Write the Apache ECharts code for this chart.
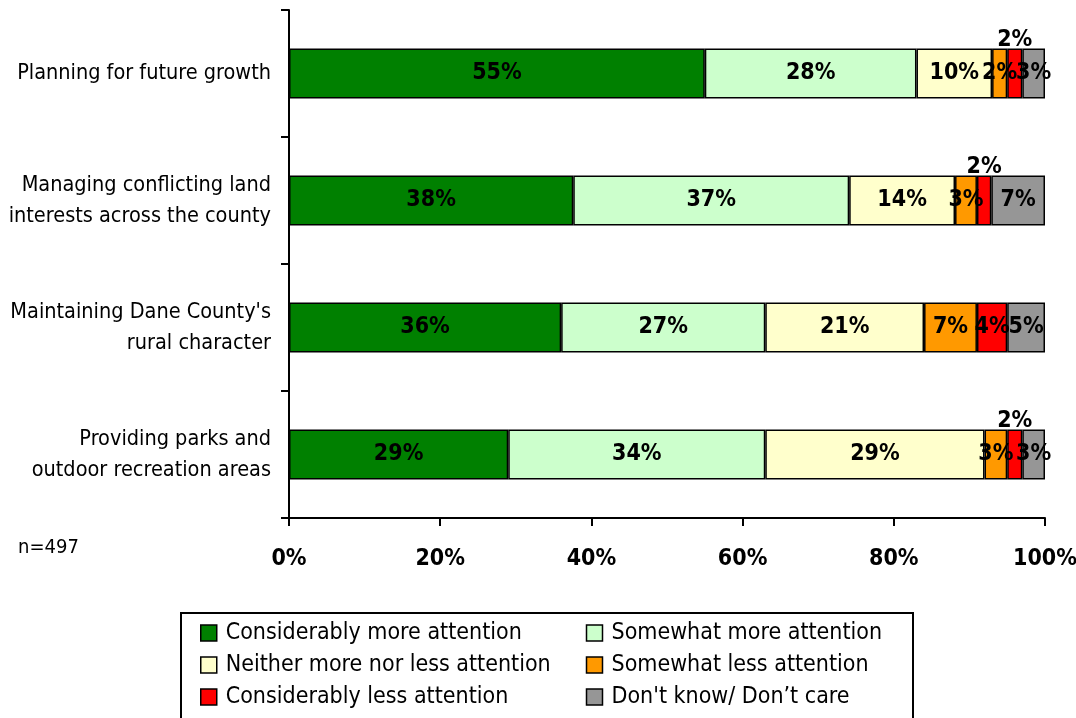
<!DOCTYPE html>
<html>
<head>
<meta charset="utf-8">
<script src="https://cdn.jsdelivr.net/npm/echarts@6/dist/echarts.min.js"></script>
<style>
html,body{margin:0;padding:0;background:#fff;}
#c{width:1076px;height:718px;}
</style>
</head>
<body>
<div id="c"></div>
<script>
var categories = [
  "Planning for future growth",
  "Managing conflicting land\ninterests across the county",
  "Maintaining Dane County's\nrural character",
  "Providing parks and\noutdoor recreation areas"
];
var seriesNames = [
  "Considerably more attention",
  "Somewhat more attention",
  "Neither more nor less attention",
  "Somewhat less attention",
  "Considerably less attention",
  "Don't know/ Don\u2019t care"
];
var considerablyMore = [55, 37.6, 36, 29];
var somewhatMore     = [28, 36.5, 27, 34];
var neither          = [10, 14, 21, 29];
var somewhatLess     = [2, 2.9, 7, 3];
var considerablyLess = [2, 1.9, 4, 2];
var dontKnow         = [3, 7.1, 5, 3];
var xTicks = [0, 20, 40, 60, 80, 100];
var sampleNote = "n=497";

var colors = ["#008000", "#CCFFCC", "#FFFFCC", "#FF9900", "#FF0000", "#969696"];
var allValues = [considerablyMore, somewhatMore, neither, somewhatLess, considerablyLess, dontKnow];
var FONT = "'Liberation Sans Narrow', 'Arial Narrow', 'DejaVu Sans Condensed', sans-serif";

var series = allValues.map(function (vals, si) {
  return {
    name: seriesNames[si],
    type: 'bar',
    stack: 'total',
    barWidth: 50,
    itemStyle: { color: colors[si], borderColor: '#000', borderWidth: 1.5 },
    label: {
      show: true,
      position: 'inside',
      color: '#000',
      fontFamily: FONT,
      fontWeight: 'bold',
      fontSize: 23,
      formatter: function (p) { return Math.round(p.value) + '%'; }
    },
    data: vals.map(function (v) {
      var d = { value: v };
      if (si === 4 && v < 3) {
        d.label = { position: 'top', distance: -3 };
      }
      return d;
    })
  };
});

var chart = echarts.init(document.getElementById('c'));
chart.setOption({
  animation: false,
  backgroundColor: '#fff',
  grid: { left: 289, right: 31, top: 10, bottom: 200, containLabel: false, outerBoundsMode: 'none' },
  xAxis: {
    type: 'value',
    min: 0, max: 100, interval: 20,
    axisLine: { show: true, lineStyle: { color: '#000', width: 2 } },
    axisTick: { show: true, length: 8, lineStyle: { color: '#000', width: 2 } },
    splitLine: { show: false },
    axisLabel: {
      margin: 30,
      color: '#000', fontFamily: FONT, fontWeight: 'bold', fontSize: 23,
      formatter: function (v) { return xTicks.indexOf(v) >= 0 ? v + '%' : ''; }
    }
  },
  yAxis: {
    type: 'category',
    inverse: true,
    data: categories,
    axisLine: { show: true, lineStyle: { color: '#000', width: 2 } },
    axisTick: { show: true, length: 8, lineStyle: { color: '#000', width: 2 } },
    axisLabel: {
      margin: 18,
      padding: [5, 0, 0, 0],
      color: '#000', fontFamily: FONT, fontSize: 21.5, lineHeight: 31, align: 'right'
    }
  },
  legend: {
    left: 195, top: 616, width: 820,
    orient: 'horizontal',
    itemWidth: 16, itemHeight: 16, itemGap: 8,
    icon: 'rect',
    itemStyle: { borderColor: '#000', borderWidth: 1.5 },
    textStyle: { color: '#000', fontFamily: FONT, fontSize: 23, lineHeight: 24, width: 352, padding: [0, 0, 0, 4] },
    data: seriesNames
  },
  graphic: [
    { type: 'rect', shape: { x: 181, y: 613, width: 732, height: 110 },
      style: { fill: 'none', stroke: '#000', lineWidth: 2 }, silent: true },
    { type: 'text', left: 18, top: 538,
      style: { text: sampleNote, fill: '#000', font: '20px ' + FONT } }
  ],
  series: series
});
</script>
</body>
</html>
